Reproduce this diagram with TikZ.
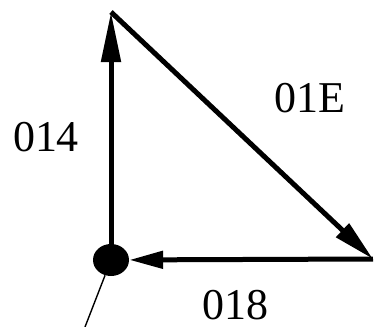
\documentclass[tikz,border=0pt]{standalone}
\usepackage{fontspec}
\setmainfont{Liberation Serif}
\usetikzlibrary{arrows.meta,shapes.geometric}

\begin{document}
\begin{tikzpicture}[
  x=1pt,y=-1pt,
  edge/.style={line width=5pt,line join=miter},
  upar/.style={edge,-{Triangle[length=50pt,width=19pt]}},
  diar/.style={edge,-{Triangle[length=42pt,width=18pt]}},
  bkar/.style={edge,-{Triangle[length=34pt,width=17pt]}},
  lead/.style={line width=1.4pt},
  dotn/.style={ellipse,fill=black,draw=none,inner sep=0pt,
               minimum width=36pt,minimum height=32pt},
  lbl/.style={font=\fontsize{44}{44}\selectfont,inner sep=0pt},
]
\useasboundingbox (0,0) rectangle (376,327);

% ---------------------------------------------- corners
\node[dotn] (dot) at (111,260) {};
\coordinate (top)   at (111,12);
\coordinate (right) at (373,259);
\coordinate (tail)  at (85,327);

% ---------------------------------------------- edges
\draw[upar] (dot) -- (top);
\draw[diar] (top) -- (right);
\draw[bkar] (right) -- (dot);
\draw[lead] (dot) -- (tail);

% ---------------------------------------------- labels
\node[lbl] (l014) at (46,137) {014};
\node[lbl] (l01E) at (310,98) {01E};
\node[lbl] (l018) at (236,305) {018};

\end{tikzpicture}
\end{document}
